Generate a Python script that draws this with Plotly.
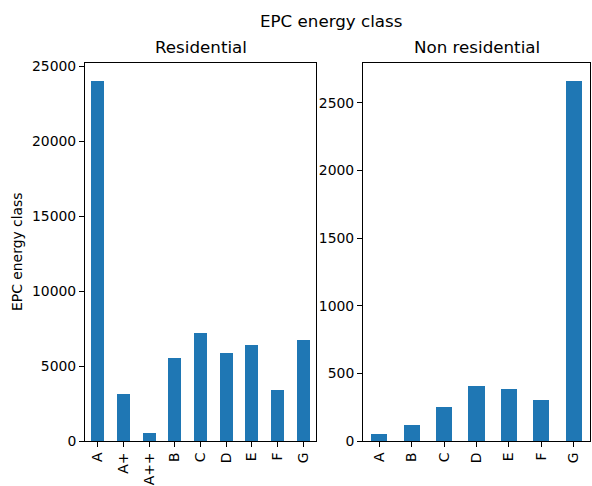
import plotly.graph_objects as go
from plotly.subplots import make_subplots

res_classes = ["A", "A+", "A++", "B", "C", "D", "E", "F", "G"]
res_counts = [24000, 3150, 540, 5520, 7230, 5880, 6410, 3420, 6750]

nonres_classes = ["A", "B", "C", "D", "E", "F", "G"]
nonres_counts = [55, 116, 251, 409, 387, 306, 2662]

suptitle = "EPC energy class"
titles = ["Residential", "Non residential"]
ylabel = "EPC energy class"

W, H = 592, 486
BLUE = "#1f77b4"
FONT = "DejaVu Sans"

fig = make_subplots(rows=1, cols=2)
fig.add_trace(go.Bar(x=res_classes, y=res_counts, width=0.5, marker_color=BLUE,
                     marker_line_width=0, showlegend=False), row=1, col=1)
fig.add_trace(go.Bar(x=nonres_classes, y=nonres_counts, width=0.5, marker_color=BLUE,
                     marker_line_width=0, showlegend=False), row=1, col=2)

def px_x(p):
    return p / W

def px_y(p):
    return 1 - p / H

ydom = [px_y(441), px_y(63)]
axis_common = dict(showline=True, linecolor="black", linewidth=1, mirror=True,
                   ticks="outside", ticklen=5, tickwidth=1, tickcolor="black",
                   showgrid=False, zeroline=False, automargin=False,
                   tickfont=dict(family=FONT, size=13.9, color="black"))

fig.update_layout(
    width=W, height=H,
    margin=dict(l=0, r=0, t=0, b=0),
    plot_bgcolor="white", paper_bgcolor="white",
    bargap=0,
    xaxis=dict(domain=[px_x(85), px_x(316)], range=[-0.5, len(res_classes) - 0.5],
               tickangle=-90, type="category", **axis_common),
    xaxis2=dict(domain=[px_x(363), px_x(590)], range=[-0.5, len(nonres_classes) - 0.5],
                tickangle=-90, type="category", **axis_common),
    yaxis=dict(domain=ydom, range=[0, max(res_counts) * 1.05], dtick=5000,
               tickformat="d", **axis_common),
    yaxis2=dict(domain=ydom, range=[0, max(nonres_counts) * 1.05], dtick=500,
                tickformat="d", **axis_common),
)

annots = [
    dict(text=suptitle, x=px_x(331), y=px_y(21), font=dict(size=16.7)),
    dict(text=titles[0], x=px_x(200.5), y=px_y(47), font=dict(size=16.7)),
    dict(text=titles[1], x=px_x(476.5), y=px_y(47), font=dict(size=16.7)),
    dict(text=ylabel, x=px_x(17), y=(ydom[0] + ydom[1]) / 2, textangle=-90, font=dict(size=13.9)),
]
for a in annots:
    a["font"].update(family=FONT, color="black")
    fig.add_annotation(xref="paper", yref="paper", showarrow=False,
                       xanchor="center", yanchor="middle", **a)

fig.write_html("out.html", config={"displayModeBar": False},
               post_script="document.body.style.margin='0';document.body.style.overflow='hidden';")
